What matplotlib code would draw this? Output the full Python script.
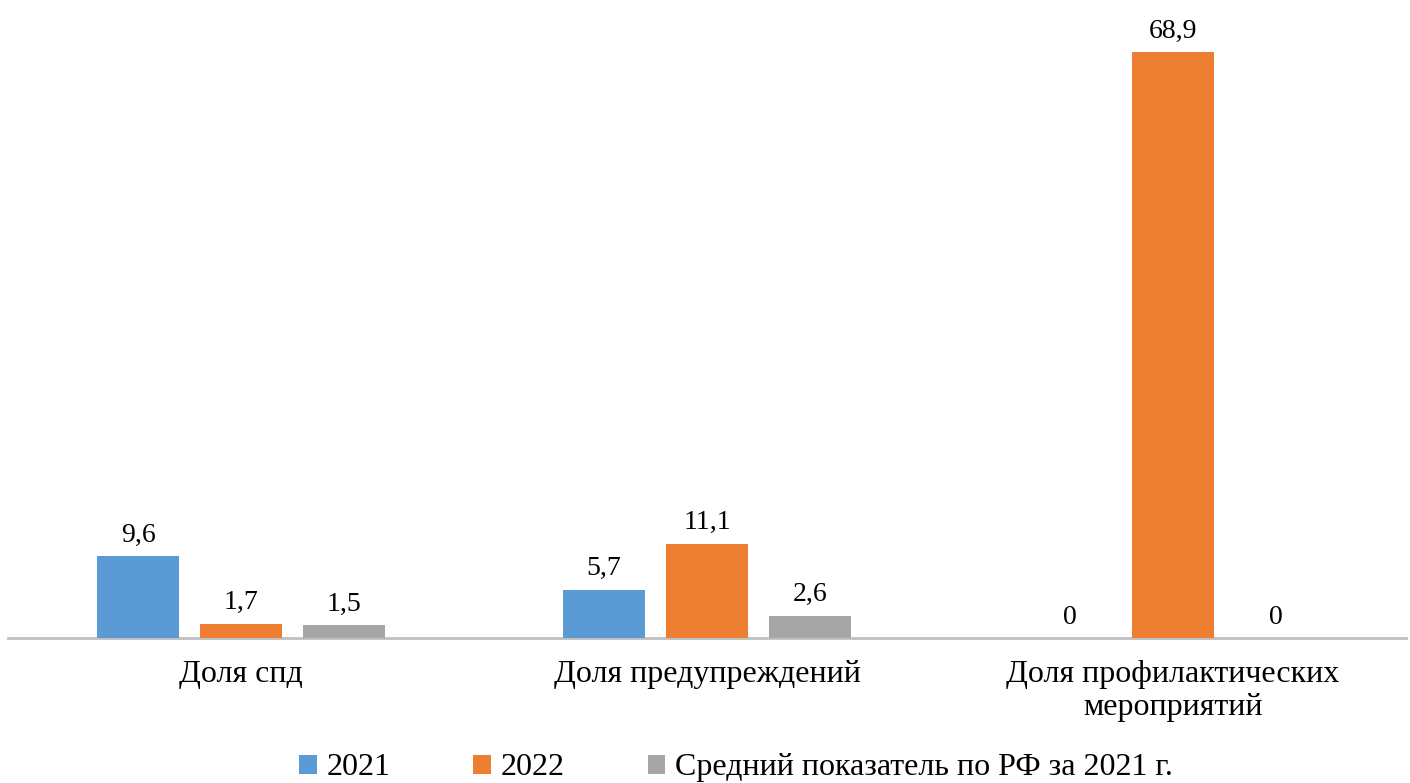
import numpy as np
import matplotlib
matplotlib.use('Agg')
import matplotlib.pyplot as plt

categories = ['Доля спд', 'Доля предупреждений', 'Доля профилактических\nмероприятий']
series_names = ['2021', '2022', 'Средний показатель по РФ за 2021 г.']
vals_2021 = [9.6, 5.7, 0]
vals_2022 = [1.7, 11.1, 68.9]
vals_rf = [1.5, 2.6, 0]
labels_2021 = ['9,6', '5,7', '0']
labels_2022 = ['1,7', '11,1', '68,9']
labels_rf = ['1,5', '2,6', '0']
colors = ['#5B9BD5', '#ED7D31', '#A5A5A5']

plt.rcParams['font.family'] = ['Liberation Serif', 'DejaVu Serif']

fig = plt.figure(figsize=(14.1, 7.83), dpi=100)
ax = fig.add_axes([8 / 1410, 145 / 783, 1398 / 1410, (638 - 43) / 783])

x = np.arange(len(categories))
w = 0.176
step = 0.221
all_vals = [vals_2021, vals_2022, vals_rf]
all_labels = [labels_2021, labels_2022, labels_rf]
for i, (vals, labs) in enumerate(zip(all_vals, all_labels)):
    bars = ax.bar(x + (i - 1) * step, vals, width=w, color=colors[i],
                  label=series_names[i], zorder=3)
    for b, lab in zip(bars, labs):
        ax.text(b.get_x() + b.get_width() / 2, b.get_height() + 1.0, lab,
                ha='center', va='bottom', fontsize=20)

ax.set_xlim(-0.5, 2.5)
ax.set_ylim(0, 70)
ax.set_yticks([])
ax.set_xticks(x)
ax.set_xticklabels(categories, fontsize=23, linespacing=1.15)
ax.tick_params(axis='x', length=0, pad=16)
for s in ['top', 'right', 'left']:
    ax.spines[s].set_visible(False)
ax.spines['bottom'].set_color('#BFBFBF')
ax.spines['bottom'].set_linewidth(2)

fig.legend(loc='lower center', bbox_to_anchor=(0.522, -0.036), ncol=3,
           frameon=False, fontsize=23, handlelength=0.55, handleheight=0.55,
           handletextpad=0.3, columnspacing=2.6)

fig.savefig('out.png', dpi=100)
